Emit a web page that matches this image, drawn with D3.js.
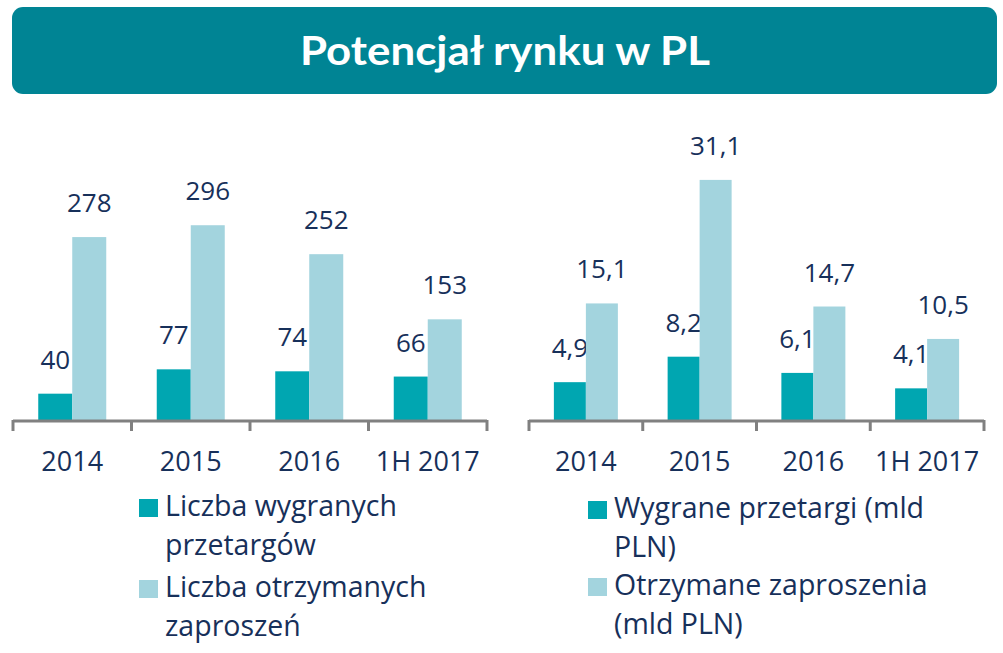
<!DOCTYPE html>
<html><head><meta charset="utf-8">
<script src="https://cdn.jsdelivr.net/npm/d3@7/dist/d3.min.js"></script>
<style>body{margin:0;background:#fff}svg{display:block}</style>
</head><body>
<svg id="c" width="1003" height="653"></svg>
<script>
const title = "Potencjał rynku w PL";
const categories = ["2014", "2015", "2016", "1H 2017"];
const leftWon = [40, 77, 74, 66];
const leftInvited = [278, 296, 252, 153];
const leftWonLabels = ["40", "77", "74", "66"];
const leftInvitedLabels = ["278", "296", "252", "153"];
const rightWon = [4.9, 8.2, 6.1, 4.1];
const rightInvited = [15.1, 31.1, 14.7, 10.5];
const rightWonLabels = ["4,9", "8,2", "6,1", "4,1"];
const rightInvitedLabels = ["15,1", "31,1", "14,7", "10,5"];
const leftLegend = [["Liczba wygranych", "przetargów"], ["Liczba otrzymanych", "zaproszeń"]];
const rightLegend = [["Wygrane przetargi (mld", "PLN)"], ["Otrzymane zaproszenia", "(mld PLN)"]];

const DARK = "#00a6b1", LIGHT = "#a3d4de", TXT = "#17305a", AXIS = "#808080";
const FONT = "'Open Sans', sans-serif";
const svg = d3.select("#c");

// Title banner
svg.append("rect").attr("x", 12).attr("y", 7).attr("width", 985).attr("height", 87)
  .attr("rx", 11).attr("fill", "#008494");
svg.append("text").attr("x", 505).attr("y", 65).attr("text-anchor", "middle")
  .attr("font-family", "Lato, sans-serif").attr("font-weight", 700).attr("font-size", 40)
  .attr("fill", "#fff").attr("textLength", 410).attr("lengthAdjust", "spacingAndGlyphs").text(title);

function chart(cfg) {
  const g = svg.append("g");
  const x = d3.scaleBand().domain(categories).range([cfg.x0, cfg.x1]).padding(0);
  const y = d3.scaleLinear().domain([0, cfg.ymax]).range([cfg.base, cfg.ytop]);
  const sub = d3.scaleBand().domain(["won", "inv"]).range([0, cfg.barW * 2]);
  const off = (x.bandwidth() - cfg.barW * 2) / 2;
  const data = categories.map((c, i) => ({c, won: cfg.won[i], inv: cfg.inv[i], wl: cfg.wl[i], il: cfg.il[i]}));
  const series = [["won", DARK, "wl"], ["inv", LIGHT, "il"]];
  series.forEach(([k, col, lk]) => {
    g.selectAll(null).data(data).enter().append("rect")
      .attr("x", d => x(d.c) + off + sub(k))
      .attr("y", d => y(d[k])).attr("width", sub.bandwidth())
      .attr("height", d => cfg.base - y(d[k])).attr("fill", col);
    g.selectAll(null).data(data).enter().append("text")
      .attr("x", d => x(d.c) + off + sub(k) + sub.bandwidth() / 2)
      .attr("y", d => y(d[k]) - 25).attr("text-anchor", "middle")
      .attr("font-family", FONT).attr("font-size", 26).attr("fill", TXT).text(d => d[lk]);
  });
  // axis line and boundary ticks
  g.append("line").attr("x1", cfg.x0).attr("x2", cfg.x1).attr("y1", cfg.base + 1).attr("y2", cfg.base + 1)
    .attr("stroke", AXIS).attr("stroke-width", 3);
  const bounds = categories.map(c => x(c)).concat([cfg.x1]);
  g.selectAll(null).data(bounds).enter().append("line")
    .attr("x1", d => d).attr("x2", d => d).attr("y1", cfg.base).attr("y2", cfg.base + 11)
    .attr("stroke", AXIS).attr("stroke-width", 3);
  g.selectAll(null).data(categories).enter().append("text")
    .attr("x", d => x(d) + x.bandwidth() / 2).attr("y", 471).attr("text-anchor", "middle")
    .attr("font-family", FONT).attr("font-size", 27).attr("fill", TXT).text(d => d);
  // legend
  cfg.legend.forEach((lines, i) => {
    const col = i === 0 ? DARK : LIGHT;
    g.append("rect").attr("x", cfg.lx).attr("y", cfg.ly[i]).attr("width", 19).attr("height", 18).attr("fill", col);
    lines.forEach((t, j) => {
      g.append("text").attr("x", cfg.lx + 26).attr("y", cfg.ly[i] + 17 + j * 39)
        .attr("font-family", FONT).attr("font-size", 28.5).attr("fill", TXT).text(t);
    });
  });
}

chart({x0: 13, x1: 487, base: 420, ymax: 300, ytop: 420 - 300 * 0.658, barW: 34,
  won: leftWon, inv: leftInvited, wl: leftWonLabels, il: leftInvitedLabels,
  legend: leftLegend, lx: 139, ly: [499, 580]});
chart({x0: 529, x1: 984, base: 420, ymax: 35, ytop: 420 - 35 * 7.72, barW: 32,
  won: rightWon, inv: rightInvited, wl: rightWonLabels, il: rightInvitedLabels,
  legend: rightLegend, lx: 588, ly: [501, 578]});
</script>
</body></html>
